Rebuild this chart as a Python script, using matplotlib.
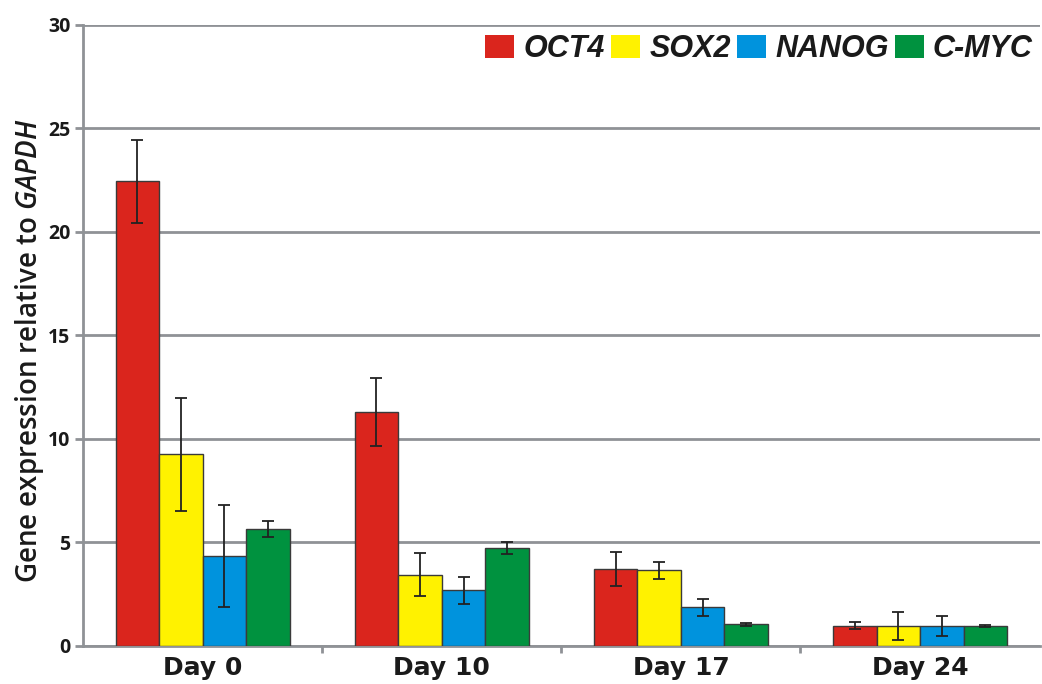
import numpy as np
import matplotlib.pyplot as plt

plt.rcParams['font.family'] = ['Open Sans', 'DejaVu Sans']
plt.rcParams['mathtext.fontset'] = 'custom'
plt.rcParams['mathtext.it'] = 'Open Sans:italic:semibold'
plt.rcParams['mathtext.rm'] = 'Open Sans'

days = ['Day 0', 'Day 10', 'Day 17', 'Day 24']
genes = ['OCT4', 'SOX2', 'NANOG', 'C-MYC']
colors = ['#DA251D', '#FFF200', '#0093DD', '#00923F']

# mean expression per gene, one value per day
oct4 = [22.45, 11.3, 3.7, 0.98]
sox2 = [9.25, 3.45, 3.65, 0.98]
nanog = [4.35, 2.7, 1.87, 0.98]
cmyc = [5.65, 4.73, 1.05, 0.98]
# error bars
oct4_err = [2.0, 1.62, 0.82, 0.18]
sox2_err = [2.72, 1.05, 0.42, 0.68]
nanog_err = [2.45, 0.65, 0.42, 0.48]
cmyc_err = [0.38, 0.3, 0.07, 0.05]

values = [oct4, sox2, nanog, cmyc]
errors = [oct4_err, sox2_err, nanog_err, cmyc_err]

fig = plt.figure(figsize=(10.42, 6.84), dpi=100)
ax = fig.add_axes([0.0797, 0.0556, 0.918, 0.908])

x = np.arange(len(days))
w = 0.182
for i in range(len(genes)):
    ax.bar(x + (i - 1.5) * w, values[i], w, color=colors[i], edgecolor='#3a3a3a',
           linewidth=1.0, label=genes[i], zorder=3,
           yerr=errors[i], error_kw=dict(ecolor='#222222', elinewidth=1.3,
                                         capsize=4, capthick=1.3, zorder=4))

ax.set_xlim(-0.5, len(days) - 0.5)
ax.set_ylim(0, 30)
ax.set_yticks(np.arange(0, 31, 5))
ax.yaxis.grid(True, color='#8f9296', linewidth=2, zorder=0)
ax.set_axisbelow(True)

for s in ['top', 'right']:
    ax.spines[s].set_visible(False)
for s in ['left', 'bottom']:
    ax.spines[s].set_color('#8f9296')
    ax.spines[s].set_linewidth(2)

ax.set_xticks(np.arange(0.5, len(days) - 0.5), minor=False)
ax.set_xticklabels([])
ax.set_xticks(x, minor=True)
ax.set_xticklabels(days, minor=True, fontsize=18, fontweight='bold',
                   family='DejaVu Sans', color='#1a1a1a')
ax.tick_params(axis='x', which='minor', length=0, pad=7)
ax.tick_params(axis='x', which='major', length=5, width=2, color='#8f9296')
ax.tick_params(axis='y', length=6, width=2, color='#8f9296', labelsize=14, pad=3,
               labelcolor='#1a1a1a')
for lab in ax.get_yticklabels():
    lab.set_fontweight('bold')

ax.set_ylabel(r'Gene expression relative to $GAPDH$', fontsize=20,
              color='#1a1a1a', fontweight='semibold')
ax.yaxis.set_label_coords(-0.039, 0.475)

leg = ax.legend(loc='upper right', ncol=4, frameon=False, bbox_to_anchor=(1.012, 1.015),
                handlelength=0.95, handleheight=0.8, handletextpad=0.3,
                columnspacing=0.2, borderaxespad=0.2,
                prop={'family': 'Liberation Sans', 'weight': 'bold',
                      'style': 'italic', 'size': 22})
for h in leg.legend_handles:
    h.set_edgecolor('none')
for t in leg.get_texts():
    t.set_color('#1a1a1a')

fig.savefig('out.png', dpi=100)
